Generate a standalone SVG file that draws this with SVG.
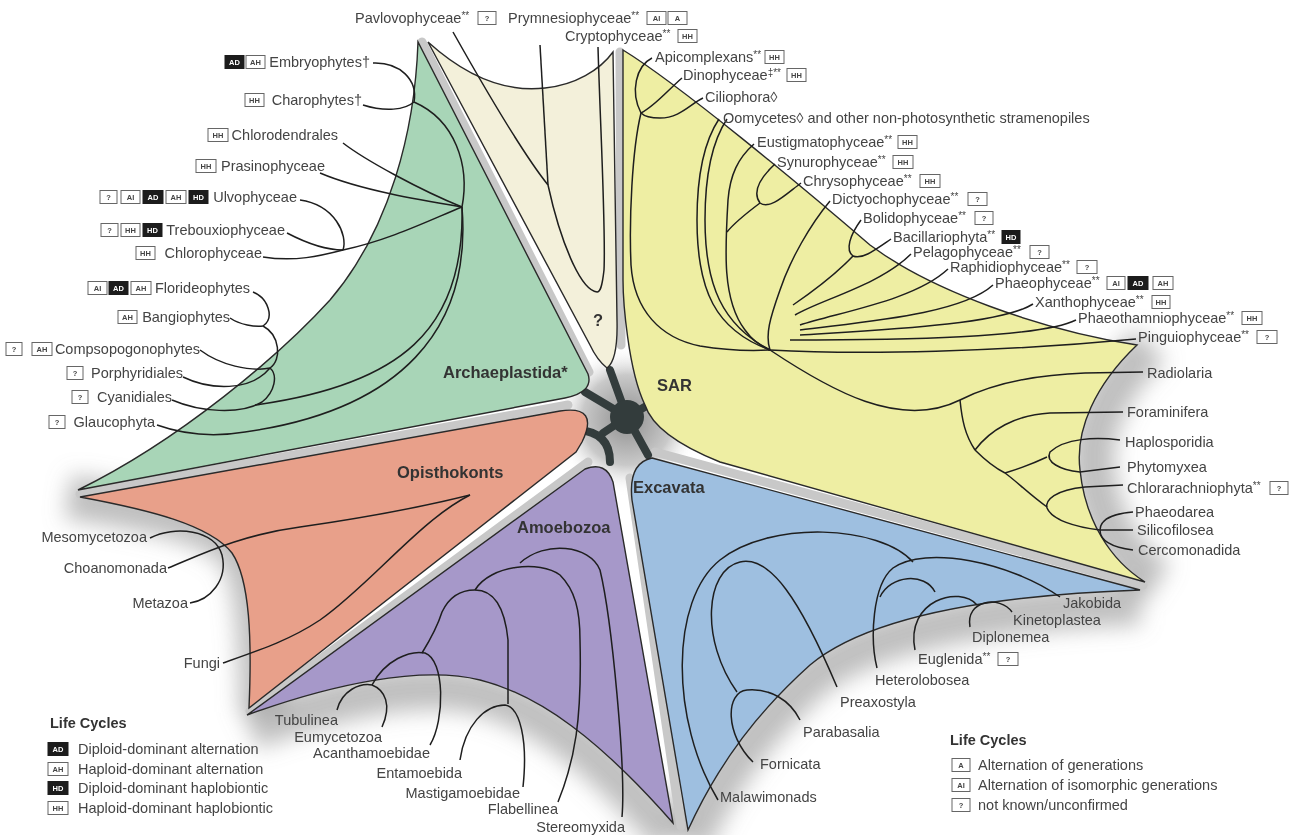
<svg xmlns="http://www.w3.org/2000/svg" width="1295" height="835" viewBox="0 0 1295 835">
<defs>
<style>
.lb{font-family:"Liberation Sans",Arial,sans-serif;font-size:14.5px;fill:#444}
.e{text-anchor:end}
.ttl{font-family:"Liberation Sans",Arial,sans-serif;font-size:16.5px;font-weight:bold;fill:#333}
.hd{font-family:"Liberation Sans",Arial,sans-serif;font-size:14.5px;font-weight:bold;fill:#333}
.ln{fill:none;stroke:#1e1e1e;stroke-width:1.5}
.rg{stroke:#2a2a2a;stroke-width:1.4}
.gap{fill:none;stroke:#c8c8c8;stroke-width:9;stroke-linecap:round}
.bx{fill:#fff;stroke:#666;stroke-width:1}
.bk{fill:#1c1c1c;stroke:#1c1c1c;stroke-width:1}
.bt{font-family:"Liberation Sans",Arial,sans-serif;font-size:7.5px;font-weight:bold;fill:#444;text-anchor:middle}
.bw{font-family:"Liberation Sans",Arial,sans-serif;font-size:7.5px;font-weight:bold;fill:#fff;text-anchor:middle}
.sd{fill:none;stroke:#8a8a8a;stroke-width:44;opacity:.55}
.spk{fill:none;stroke:#333c3c;stroke-width:8;stroke-linecap:round}
</style>
<filter id="blur" x="-20%" y="-20%" width="140%" height="140%"><feGaussianBlur stdDeviation="11"/></filter>
<radialGradient id="hubg" cx="0.5" cy="0.5" r="0.5">
<stop offset="0" stop-color="#8f8f8f"/>
<stop offset="0.6" stop-color="#c9c9c9"/>
<stop offset="1" stop-color="#fff" stop-opacity="0"/>
</radialGradient>
</defs>
<rect width="1295" height="835" fill="#fff"/>

<g id="shadows" filter="url(#blur)">
<path class="sd" d="M1150,345 C 1108,385 1088,430 1093,470 C 1098,520 1123,560 1158,582"/>
<path class="sd" d="M68,497 C 190,515 222,530 240,553 C 258,580 260,640 262,712"/>
<path class="sd" d="M250,728 C 330,698 420,678 480,693 C 540,708 600,752 672,836"/>
<path class="sd" d="M1140,603 C 1000,608 870,628 810,678 C 760,723 720,773 688,843"/>
</g>
<circle cx="627" cy="420" r="75" fill="url(#hubg)"/>

<g id="gaps">
<path class="gap" d="M422,42 L589,372"/>
<path class="gap" d="M620,52 L621,345"/>
<path class="gap" d="M655,452 L1143,585"/>
<path class="gap" d="M630,478 L681,826"/>
<path class="gap" d="M250,711 L588,462"/>
<path class="gap" d="M80,494 L568,405"/>
</g>

<g id="hub">
<path class="spk" d="M627,417 L585,392"/>
<path class="spk" d="M627,417 L610,370"/>
<path class="spk" d="M627,417 L650,404"/>
<path class="spk" d="M627,417 L648,455"/>
<path class="spk" d="M627,417 L603,433"/>
<path class="spk" d="M578,430 Q610,432 610,462"/>
<circle cx="627" cy="417" r="17" fill="#333c3c"/>
</g>

<g id="archaeplastida">
<path class="rg" fill="#a8d5b7" d="M418,42 C 415,130 390,230 330,300 C 280,355 180,440 78,490 L 565,398 Q 594,392 588,374 Z"/>
<text class="ttl" x="443" y="378">Archaeplastida*</text>
</g>

<g id="haptophytes-cryptophytes">
<path class="rg" fill="#f3f0da" d="M428,42 C 470,80 510,92 545,88 C 575,85 600,70 613,52 L 617,320 Q 618,360 607,368 Q 597,360 590,345 Z"/>
<text class="ttl" x="598" y="326" text-anchor="middle">?</text>
</g>

<g id="sar">
<path class="rg" fill="#eeeea3" d="M623,50 C 680,85 800,185 870,245 C 930,290 1040,330 1137,345 C 1095,385 1075,430 1080,470 C 1085,520 1110,560 1145,582 L 720,462 Q 655,436 645,405 C 628,370 623,300 623,280 Z"/>
<text class="ttl" x="657" y="391">SAR</text>
</g>

<g id="excavata">
<path class="rg" fill="#9ebfe0" d="M652,458 L 1140,590 C 1000,595 870,615 810,665 C 760,710 720,760 688,830 L 632,500 Q 628,463 652,458 Z"/>
<text class="ttl" x="633" y="493">Excavata</text>
</g>

<g id="amoebozoa">
<path class="rg" fill="#a698c9" d="M247,715 L 585,469 Q 606,461 613,482 L 673,823 C 600,740 540,695 480,680 C 420,665 330,685 247,715 Z"/>
<text class="ttl" x="517" y="533">Amoebozoa</text>
</g>

<g id="opisthokonts">
<path class="rg" fill="#e8a08a" d="M80,497 L 560,411 Q 600,405 582,442 L 576,452 L 249,708 C 252,640 250,580 232,553 C 210,525 150,510 80,497 Z"/>
<text class="ttl" x="397" y="478">Opisthokonts</text>
</g>

<g id="connectors">
<!-- Archaeplastida -->
<path class="ln" d="M373,63 C 400,62 418,80 414,102"/>
<path class="ln" d="M363,105 C 385,112 405,110 414,102"/>
<path class="ln" d="M414,102 C 455,120 470,165 462,207"/>
<path class="ln" d="M343,143 C 365,160 420,190 462,207"/>
<path class="ln" d="M320,173 C 360,190 420,200 462,207"/>
<path class="ln" d="M300,200 C 335,205 348,235 343,250"/>
<path class="ln" d="M287,233 C 310,245 330,250 343,250"/>
<path class="ln" d="M263,257 C 295,262 320,256 343,250 C 390,240 430,220 462,207"/>
<path class="ln" d="M253,292 C 268,298 275,318 263,326"/>
<path class="ln" d="M230,318 C 240,325 255,327 263,326"/>
<path class="ln" d="M263,326 C 280,335 282,360 270,368"/>
<path class="ln" d="M200,350 C 220,365 250,372 270,368"/>
<path class="ln" d="M183,377 C 210,390 250,392 270,368"/>
<path class="ln" d="M172,400 C 200,412 240,415 262,402 C 275,392 278,375 270,368"/>
<path class="ln" d="M255,405 C 400,385 465,330 462,207"/>
<path class="ln" d="M157,425 C 185,435 215,437 245,432 C 400,410 472,330 462,207"/>
<!-- haptophytes / cryptophytes -->
<path class="ln" d="M453,32 C 480,80 520,150 548,185"/>
<path class="ln" d="M540,45 C 543,100 546,150 548,185"/>
<path class="ln" d="M548,185 C 560,240 580,290 597,292"/>
<path class="ln" d="M598,47 C 600,120 606,230 604,270 C 602,288 600,292 597,292"/>
<!-- SAR: alveolates -->
<path class="ln" d="M652,58 C 636,66 630,92 641,113"/>
<path class="ln" d="M682,78 C 668,90 655,106 641,113"/>
<path class="ln" d="M703,98 C 690,104 680,118 660,118 C 650,118 644,116 641,113"/>
<path class="ln" d="M641,113 C 632,150 629,220 631,265 C 634,310 660,338 700,346 C 730,351 750,351 770,350"/>
<!-- stramenopiles -->
<path class="ln" d="M719,119 C 705,140 697,170 697,220 C 697,290 715,330 770,350"/>
<path class="ln" d="M727,119 C 713,140 705,170 705,220 C 705,285 722,325 770,350"/>
<path class="ln" d="M754,144 C 738,158 730,175 728,200 C 725,250 722,300 745,330 C 752,340 760,346 770,350"/>
<path class="ln" d="M775,164 C 760,178 752,192 760,203 C 770,210 785,195 801,183"/>
<path class="ln" d="M760,203 C 748,212 735,222 727,232"/>
<path class="ln" d="M830,201 C 810,225 790,260 780,290 C 770,318 765,335 770,350"/>
<path class="ln" d="M861,220 C 850,235 845,250 853,256 C 862,260 875,250 891,239"/>
<path class="ln" d="M853,256 C 835,275 812,292 793,305"/>
<path class="ln" d="M911,254 C 880,285 820,300 795,315"/>
<path class="ln" d="M948,269 C 915,300 840,312 800,325"/>
<path class="ln" d="M993,285 C 960,315 860,322 800,330"/>
<path class="ln" d="M1033,304 C 1000,325 880,330 800,335"/>
<path class="ln" d="M1076,320 C 1040,338 900,340 790,340"/>
<path class="ln" d="M1136,339 C 1000,352 860,355 770,350"/>
<!-- Rhizaria -->
<path class="ln" d="M1143,372 L1085,373 C 1030,375 990,385 960,400 C 900,430 830,390 770,350"/>
<path class="ln" d="M1123,412 L1050,413 C 1015,415 990,430 975,450"/>
<path class="ln" d="M1120,440 C 1095,437 1065,438 1050,452 C 1045,462 1060,470 1080,472 L 1120,467"/>
<path class="ln" d="M1047,457 C 1030,465 1015,470 1005,473"/>
<path class="ln" d="M1123,485 L 1085,487 C 1055,490 1045,500 1047,508"/>
<path class="ln" d="M1047,508 C 1052,520 1075,527 1100,530"/>
<path class="ln" d="M1133,512 C 1110,514 1100,520 1100,530 C 1100,540 1110,547 1133,550"/>
<path class="ln" d="M1133,530 L 1100,530"/>
<path class="ln" d="M1047,507 C 1030,495 1015,480 1005,473"/>
<path class="ln" d="M1005,473 C 995,468 985,460 975,450"/>
<path class="ln" d="M975,450 C 965,435 962,420 960,400"/>
<!-- Excavata -->
<path class="ln" d="M1060,597 C 1010,562 925,545 893,568 C 872,585 870,640 877,668"/>
<path class="ln" d="M880,597 C 890,575 925,572 935,592"/>
<path class="ln" d="M915,650 C 905,600 960,585 977,605"/>
<path class="ln" d="M970,627 C 965,600 1000,595 1012,612"/>
<path class="ln" d="M837,687 C 800,600 770,555 740,562 C 705,570 700,640 737,692"/>
<path class="ln" d="M753,762 C 725,735 725,692 747,690 C 770,688 790,700 800,720"/>
<path class="ln" d="M718,800 C 670,720 670,600 720,560 C 770,520 880,525 913,562"/>
<!-- Opisthokonts -->
<path class="ln" d="M150,538 C 175,525 215,530 222,555 C 228,580 210,600 190,603"/>
<path class="ln" d="M168,568 C 200,555 240,535 300,527 C 370,517 430,505 470,495"/>
<path class="ln" d="M223,663 C 260,650 290,640 320,620 C 370,585 420,520 470,495"/>
<!-- Amoebozoa -->
<path class="ln" d="M337,710 C 342,690 360,683 372,685"/>
<path class="ln" d="M382,727 C 392,705 385,690 372,685"/>
<path class="ln" d="M372,685 C 385,660 410,650 425,653 C 445,660 445,720 430,745"/>
<path class="ln" d="M422,653 C 430,640 437,628 442,612 C 450,595 462,590 475,590 C 495,590 505,610 508,640 L 508,704"/>
<path class="ln" d="M460,760 C 465,725 485,705 505,705 C 520,707 528,740 523,787"/>
<path class="ln" d="M475,590 C 490,565 540,560 560,575 C 575,590 580,610 580,640 C 582,720 575,760 558,802"/>
<path class="ln" d="M520,563 C 545,540 590,545 600,570 C 612,620 626,770 622,817"/>
</g>

<g id="labels-archaeplastida">
<rect class="bk" x="225" y="55.5" width="19" height="13"/><text class="bw" x="234.5" y="64.7">AD</text>
<rect class="bx" x="246" y="55.5" width="19" height="13"/><text class="bt" x="255.5" y="64.7">AH</text>
<text class="lb e" x="370" y="67">Embryophytes†</text>
<rect class="bx" x="245" y="93.5" width="19" height="13"/><text class="bt" x="254.5" y="102.7">HH</text>
<text class="lb e" x="362" y="105">Charophytes†</text>
<rect class="bx" x="208" y="128.5" width="20" height="13"/><text class="bt" x="218" y="137.7">HH</text>
<text class="lb e" x="338" y="140">Chlorodendrales</text>
<rect class="bx" x="196" y="159.5" width="20" height="13"/><text class="bt" x="206" y="168.7">HH</text>
<text class="lb e" x="325" y="171">Prasinophyceae</text>
<rect class="bx" x="100" y="190.5" width="17" height="13"/><text class="bt" x="108.5" y="199.7">?</text>
<rect class="bx" x="121" y="190.5" width="19" height="13"/><text class="bt" x="130.5" y="199.7">AI</text>
<rect class="bk" x="143" y="190.5" width="20" height="13"/><text class="bw" x="153" y="199.7">AD</text>
<rect class="bx" x="166" y="190.5" width="20" height="13"/><text class="bt" x="176" y="199.7">AH</text>
<rect class="bk" x="189" y="190.5" width="19" height="13"/><text class="bw" x="198.5" y="199.7">HD</text>
<text class="lb e" x="297" y="202">Ulvophyceae</text>
<rect class="bx" x="101" y="223.5" width="17" height="13"/><text class="bt" x="109.5" y="232.7">?</text>
<rect class="bx" x="121" y="223.5" width="19" height="13"/><text class="bt" x="130.5" y="232.7">HH</text>
<rect class="bk" x="143" y="223.5" width="19" height="13"/><text class="bw" x="152.5" y="232.7">HD</text>
<text class="lb e" x="285" y="235">Trebouxiophyceae</text>
<rect class="bx" x="136" y="246.5" width="19" height="13"/><text class="bt" x="145.5" y="255.7">HH</text>
<text class="lb e" x="262" y="258">Chlorophyceae</text>
<rect class="bx" x="88" y="281.5" width="19" height="13"/><text class="bt" x="97.5" y="290.7">AI</text>
<rect class="bk" x="109" y="281.5" width="19" height="13"/><text class="bw" x="118.5" y="290.7">AD</text>
<rect class="bx" x="131" y="281.5" width="20" height="13"/><text class="bt" x="141" y="290.7">AH</text>
<text class="lb e" x="250" y="293">Florideophytes</text>
<rect class="bx" x="118" y="310.5" width="19" height="13"/><text class="bt" x="127.5" y="319.7">AH</text>
<text class="lb e" x="230" y="322">Bangiophytes</text>
<rect class="bx" x="6" y="342.5" width="16" height="13"/><text class="bt" x="14" y="351.7">?</text>
<rect class="bx" x="32" y="342.5" width="20" height="13"/><text class="bt" x="42" y="351.7">AH</text>
<text class="lb e" x="200" y="354">Compsopogonophytes</text>
<rect class="bx" x="67" y="366.5" width="16" height="13"/><text class="bt" x="75" y="375.7">?</text>
<text class="lb e" x="183" y="378">Porphyridiales</text>
<rect class="bx" x="72" y="390.5" width="16" height="13"/><text class="bt" x="80" y="399.7">?</text>
<text class="lb e" x="172" y="402">Cyanidiales</text>
<rect class="bx" x="49" y="415.5" width="16" height="13"/><text class="bt" x="57" y="424.7">?</text>
<text class="lb e" x="155" y="427">Glaucophyta</text>
</g>

<g id="labels-top">
<text class="lb" x="355" y="23">Pavlovophyceae<tspan font-size="10" dy="-4">**</tspan></text>
<rect class="bx" x="478" y="11.5" width="18" height="13"/><text class="bt" x="487" y="20.7">?</text>
<text class="lb" x="508" y="23">Prymnesiophyceae<tspan font-size="10" dy="-4">**</tspan></text>
<rect class="bx" x="647" y="11.5" width="19" height="13"/><text class="bt" x="656.5" y="20.7">AI</text>
<rect class="bx" x="668" y="11.5" width="19" height="13"/><text class="bt" x="677.5" y="20.7">A</text>
<text class="lb" x="565" y="41">Cryptophyceae<tspan font-size="10" dy="-4">**</tspan></text>
<rect class="bx" x="678" y="29.5" width="19" height="13"/><text class="bt" x="687.5" y="38.7">HH</text>
</g>

<g id="labels-sar">
<text class="lb" x="655" y="62">Apicomplexans<tspan font-size="10" dy="-4">**</tspan></text>
<rect class="bx" x="765" y="50.5" width="19" height="13"/><text class="bt" x="774.5" y="59.7">HH</text>
<text class="lb" x="683" y="80">Dinophyceae<tspan font-size="10" dy="-4">‡**</tspan></text>
<rect class="bx" x="787" y="68.5" width="19" height="13"/><text class="bt" x="796.5" y="77.7">HH</text>
<text class="lb" x="705" y="102">Ciliophora◊</text>
<text class="lb" x="723" y="123">Oomycetes◊ and other non-photosynthetic stramenopiles</text>
<text class="lb" x="757" y="147">Eustigmatophyceae<tspan font-size="10" dy="-4">**</tspan></text>
<rect class="bx" x="898" y="135.5" width="19" height="13"/><text class="bt" x="907.5" y="144.7">HH</text>
<text class="lb" x="777" y="167">Synurophyceae<tspan font-size="10" dy="-4">**</tspan></text>
<rect class="bx" x="893" y="155.5" width="20" height="13"/><text class="bt" x="903" y="164.7">HH</text>
<text class="lb" x="803" y="186">Chrysophyceae<tspan font-size="10" dy="-4">**</tspan></text>
<rect class="bx" x="920" y="174.5" width="20" height="13"/><text class="bt" x="930" y="183.7">HH</text>
<text class="lb" x="832" y="204">Dictyochophyceae<tspan font-size="10" dy="-4">**</tspan></text>
<rect class="bx" x="968" y="192.5" width="19" height="13"/><text class="bt" x="977.5" y="201.7">?</text>
<text class="lb" x="863" y="223">Bolidophyceae<tspan font-size="10" dy="-4">**</tspan></text>
<rect class="bx" x="975" y="211.5" width="18" height="13"/><text class="bt" x="984" y="220.7">?</text>
<text class="lb" x="893" y="242">Bacillariophyta<tspan font-size="10" dy="-4">**</tspan></text>
<rect class="bk" x="1002" y="230.5" width="18" height="13"/><text class="bw" x="1011" y="239.7">HD</text>
<text class="lb" x="913" y="257">Pelagophyceae<tspan font-size="10" dy="-4">**</tspan></text>
<rect class="bx" x="1030" y="245.5" width="19" height="13"/><text class="bt" x="1039.5" y="254.7">?</text>
<text class="lb" x="950" y="272">Raphidiophyceae<tspan font-size="10" dy="-4">**</tspan></text>
<rect class="bx" x="1077" y="260.5" width="20" height="13"/><text class="bt" x="1087" y="269.7">?</text>
<text class="lb" x="995" y="288">Phaeophyceae<tspan font-size="10" dy="-4">**</tspan></text>
<rect class="bx" x="1107" y="276.5" width="18" height="13"/><text class="bt" x="1116" y="285.7">AI</text>
<rect class="bk" x="1128" y="276.5" width="20" height="13"/><text class="bw" x="1138" y="285.7">AD</text>
<rect class="bx" x="1153" y="276.5" width="20" height="13"/><text class="bt" x="1163" y="285.7">AH</text>
<text class="lb" x="1035" y="307">Xanthophyceae<tspan font-size="10" dy="-4">**</tspan></text>
<rect class="bx" x="1152" y="295.5" width="18" height="13"/><text class="bt" x="1161" y="304.7">HH</text>
<text class="lb" x="1078" y="323">Phaeothamniophyceae<tspan font-size="10" dy="-4">**</tspan></text>
<rect class="bx" x="1242" y="311.5" width="20" height="13"/><text class="bt" x="1252" y="320.7">HH</text>
<text class="lb" x="1138" y="342">Pinguiophyceae<tspan font-size="10" dy="-4">**</tspan></text>
<rect class="bx" x="1257" y="330.5" width="20" height="13"/><text class="bt" x="1267" y="339.7">?</text>
<text class="lb" x="1147" y="378">Radiolaria</text>
<text class="lb" x="1127" y="417">Foraminifera</text>
<text class="lb" x="1125" y="447">Haplosporidia</text>
<text class="lb" x="1127" y="472">Phytomyxea</text>
<text class="lb" x="1127" y="493">Chlorarachniophyta<tspan font-size="10" dy="-4">**</tspan></text>
<rect class="bx" x="1270" y="481.5" width="18" height="13"/><text class="bt" x="1279" y="490.7">?</text>
<text class="lb" x="1135" y="517">Phaeodarea</text>
<text class="lb" x="1137" y="535">Silicofilosea</text>
<text class="lb" x="1138" y="555">Cercomonadida</text>
</g>

<g id="labels-excavata">
<text class="lb" x="1063" y="608">Jakobida</text>
<text class="lb" x="1013" y="625">Kinetoplastea</text>
<text class="lb" x="972" y="642">Diplonemea</text>
<text class="lb" x="918" y="664">Euglenida<tspan font-size="10" dy="-4">**</tspan></text>
<rect class="bx" x="998" y="652.5" width="20" height="13"/><text class="bt" x="1008" y="661.7">?</text>
<text class="lb" x="875" y="685">Heterolobosea</text>
<text class="lb" x="840" y="707">Preaxostyla</text>
<text class="lb" x="803" y="737">Parabasalia</text>
<text class="lb" x="760" y="769">Fornicata</text>
<text class="lb" x="720" y="802">Malawimonads</text>
</g>

<g id="labels-opisthokonts">
<text class="lb e" x="147" y="542">Mesomycetozoa</text>
<text class="lb e" x="167" y="573">Choanomonada</text>
<text class="lb e" x="188" y="608">Metazoa</text>
<text class="lb e" x="220" y="668">Fungi</text>
</g>
<g id="labels-amoebozoa">
<text class="lb e" x="338" y="725">Tubulinea</text>
<text class="lb e" x="382" y="742">Eumycetozoa</text>
<text class="lb e" x="430" y="758">Acanthamoebidae</text>
<text class="lb e" x="462" y="778">Entamoebida</text>
<text class="lb e" x="520" y="798">Mastigamoebidae</text>
<text class="lb e" x="558" y="814">Flabellinea</text>
<text class="lb e" x="625" y="832">Stereomyxida</text>
</g>

<g id="legend-left">
<text class="hd" x="50" y="728">Life Cycles</text>
<rect class="bk" x="48" y="742.5" width="20" height="13"/><text class="bw" x="58" y="751.7">AD</text>
<text class="lb" x="78" y="754">Diploid-dominant alternation</text>
<rect class="bx" x="48" y="762.5" width="20" height="13"/><text class="bt" x="58" y="771.7">AH</text>
<text class="lb" x="78" y="774">Haploid-dominant alternation</text>
<rect class="bk" x="48" y="781.5" width="20" height="13"/><text class="bw" x="58" y="790.7">HD</text>
<text class="lb" x="78" y="793">Diploid-dominant haplobiontic</text>
<rect class="bx" x="48" y="801.5" width="20" height="13"/><text class="bt" x="58" y="810.7">HH</text>
<text class="lb" x="78" y="813">Haploid-dominant haplobiontic</text>
</g>
<g id="legend-right">
<text class="hd" x="950" y="745">Life Cycles</text>
<rect class="bx" x="952" y="758.5" width="18" height="13"/><text class="bt" x="961" y="767.7">A</text>
<text class="lb" x="978" y="770">Alternation of generations</text>
<rect class="bx" x="952" y="778.5" width="18" height="13"/><text class="bt" x="961" y="787.7">AI</text>
<text class="lb" x="978" y="790">Alternation of isomorphic generations</text>
<rect class="bx" x="952" y="798.5" width="18" height="13"/><text class="bt" x="961" y="807.7">?</text>
<text class="lb" x="978" y="810">not known/unconfirmed</text>
</g>
</svg>
